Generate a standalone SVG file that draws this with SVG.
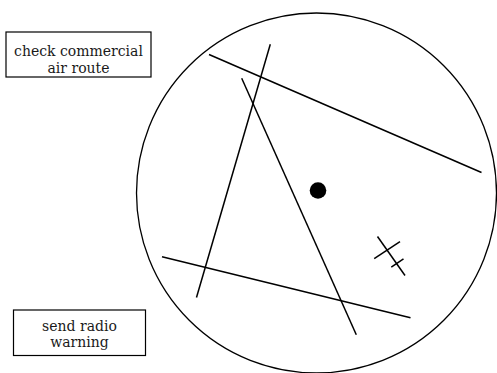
<svg xmlns="http://www.w3.org/2000/svg" width="497" height="373" viewBox="0 0 497 373">
<style>
.box{fill:#fff;stroke:#000;stroke-width:1.2}
.lbl{font-family:"DejaVu Serif","Liberation Serif",serif;font-size:14px;fill:#1a1a1a;text-anchor:middle}
.ln{stroke:#000;stroke-width:1.5;fill:none;stroke-linecap:butt}
</style>
<rect width="497" height="373" fill="#fff"/>
<g id="scope">
<circle cx="316.5" cy="193" r="180" fill="none" stroke="#000" stroke-width="1.3"/>
</g>
<g id="connectors">
<line class="ln" x1="209" y1="54.5" x2="481.5" y2="172.5"/>
<line class="ln" x1="270.3" y1="44.3" x2="196.5" y2="297.5"/>
<line class="ln" x1="241.7" y1="78.3" x2="356.3" y2="334.7"/>
<line class="ln" x1="162" y1="256.7" x2="410.5" y2="317.7"/>
</g>
<g id="target">
<circle cx="318" cy="190.5" r="8.3" fill="#000"/>
</g>
<g id="cross">
<line class="ln" x1="377.5" y1="236.5" x2="405" y2="275.5"/>
<line class="ln" x1="374.2" y1="258.6" x2="400" y2="241.6"/>
<line class="ln" x1="391.3" y1="267.2" x2="403.5" y2="258.8"/>
</g>
<g id="check-route">
<rect class="box" x="6" y="32" width="145" height="45"/>
<text class="lbl" x="78.5" y="56">check commercial</text>
<text class="lbl" x="78.5" y="72.5">air route</text>
</g>
<g id="send-warning">
<rect class="box" x="13.5" y="310" width="132" height="45.5"/>
<text class="lbl" x="79.5" y="330.8">send radio</text>
<text class="lbl" x="79.5" y="347.3">warning</text>
</g>
</svg>
